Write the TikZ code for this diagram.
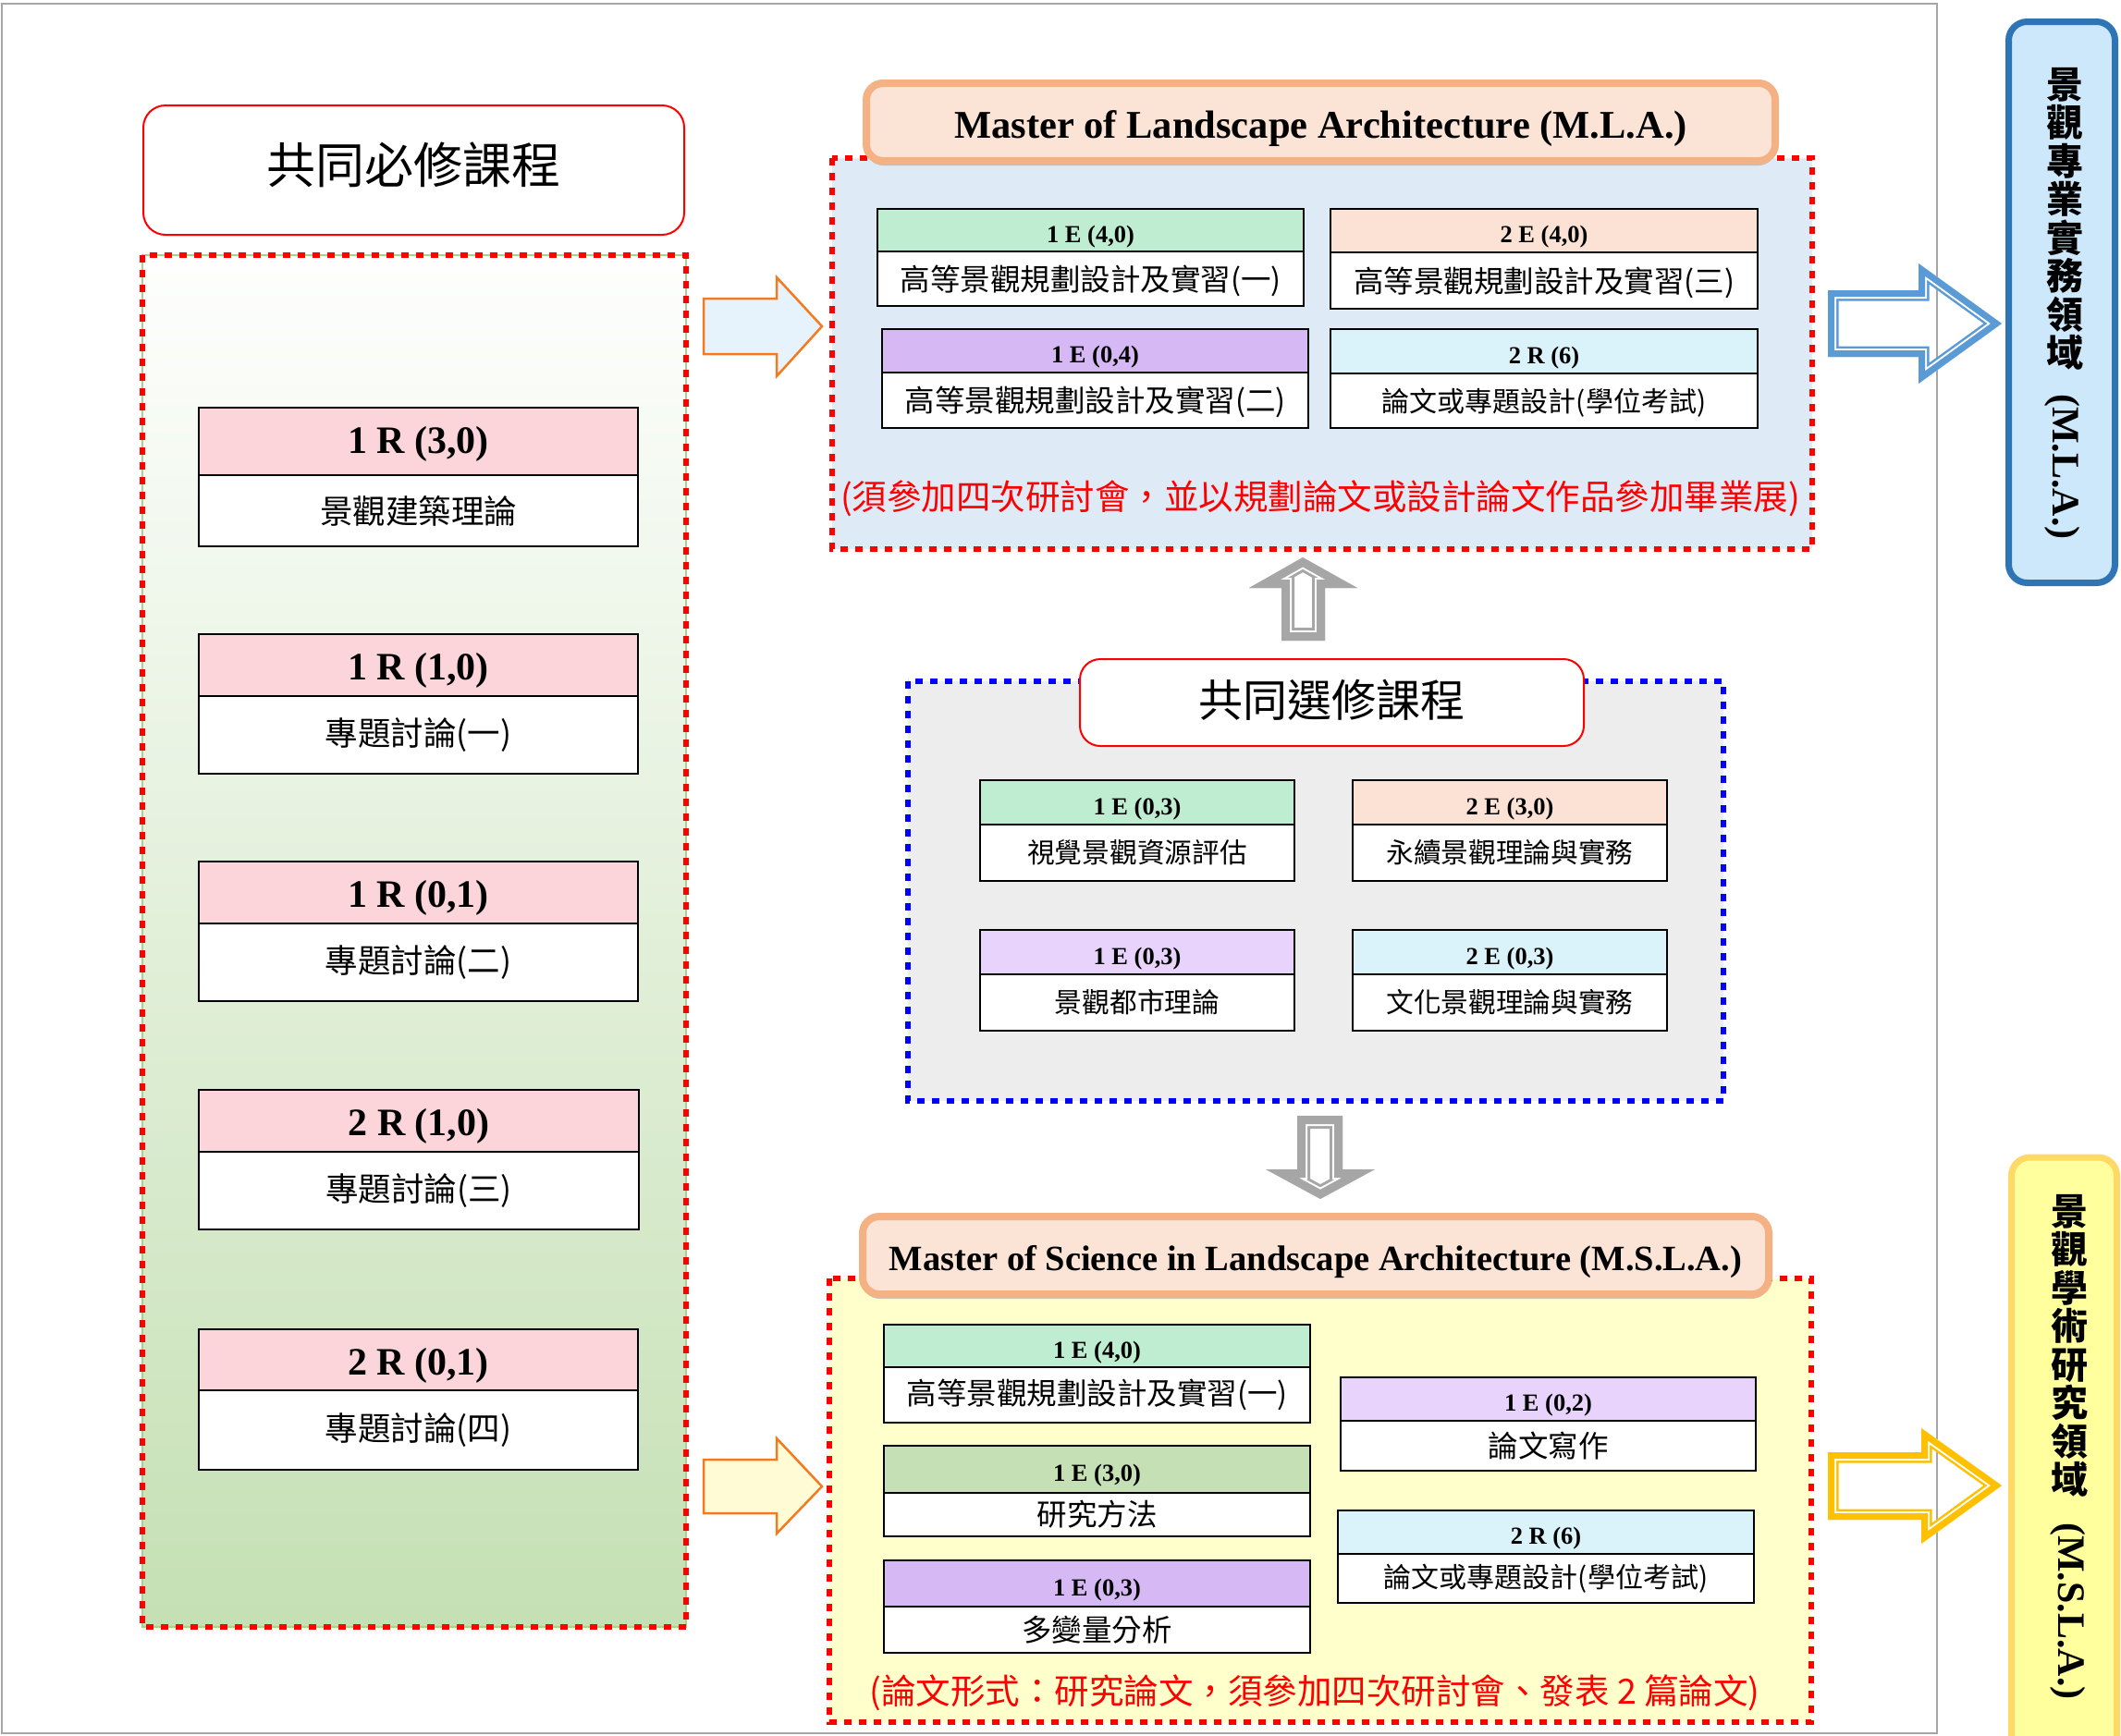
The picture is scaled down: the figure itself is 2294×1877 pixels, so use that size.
\documentclass[tikz,border=0pt]{standalone}
\usepackage{fontspec}
\usepackage{graphicx}
\setmainfont{Liberation Serif}
\newfontfamily\cjk{Noto Sans CJK TC}
\usetikzlibrary{shadows}
\definecolor{pinkH}{HTML}{FCD5DB}
\definecolor{greenH}{HTML}{BEEDD2}
\definecolor{peachH}{HTML}{FBE2D5}
\definecolor{purpleH}{HTML}{D5B8F4}
\definecolor{cyanH}{HTML}{DAF2FA}
\definecolor{lavH}{HTML}{E8D3FC}
\definecolor{oliveH}{HTML}{C5E0B4}
\definecolor{mlaFill}{HTML}{DEEAF6}
\definecolor{elFill}{HTML}{EDEDED}
\definecolor{mslaFill}{HTML}{FFFFCC}
\definecolor{titleLine}{HTML}{F4B183}
\definecolor{titleFill}{HTML}{FBE3D6}
\definecolor{frameGray}{HTML}{A6A6A6}
\definecolor{arrOrange}{HTML}{F57A1F}
\definecolor{arrBlueFill}{HTML}{E6F2FC}
\definecolor{arrYelFill}{HTML}{FFFBD5}
\definecolor{blueArr}{HTML}{5B9BD5}
\definecolor{yelArr}{HTML}{FFC000}
\definecolor{blueBoxLine}{HTML}{2E75B6}
\definecolor{blueBoxFill}{HTML}{CDE8FA}
\definecolor{yelBoxLine}{HTML}{FFD966}
\definecolor{yelBoxFill}{HTML}{FFFF9E}
\definecolor{panelGreenLine}{HTML}{A9D18E}
\newcommand\shiftv[2]{\raisebox{#1}[\height][\depth]{#2}}
\newcommand\hdrdrop{-7pt}
\newcommand\bdydrop{0pt}
\newcommand\course[9]{%
  \node[hdr, fill=#7, minimum width={#3-#2}, minimum height={#5-#4}] (#1h) at ({(#2+#3)/2},{(#4+#5)/2}) {\shiftv{\hdrdrop}{#8}};
  \node[bdy, minimum width={#3-#2}, minimum height={#6-#5}] (#1b) at ({(#2+#3)/2},{(#5+#6)/2}) {\shiftv{\bdydrop}{#9}};}
\newcommand\cmparrow[5]{%
  \begin{scope}
    \clip #1;
    \draw[#2, line width=#3, line join=miter] #1;
    \draw[white, line width=#4, line join=miter] #1;
    \draw[#2, line width=#5, line join=miter] #1;
  \end{scope}}
\begin{document}
\begin{tikzpicture}[x=1pt,y=-1pt,
  hbase/.style={rectangle, draw=black, line width=2pt, inner sep=0pt},
  bbase/.style={rectangle, draw=black, line width=2pt, fill=white, inner sep=0pt},
  hdr/.style={hbase, font=\fontsize{26.5}{26.5}\selectfont\bfseries},
  bdy/.style={bbase, font=\fontsize{32.5}{32.5}\selectfont\cjk},
  reddots/.style={draw=red, line width=6pt, dash pattern=on 8pt off 8pt},
  bluedots/.style={draw=blue, line width=6pt, dash pattern=on 8pt off 8pt},
  headbox/.style={rectangle, draw=red, line width=2pt, fill=white, rounded corners=24pt, inner sep=0pt},
  titlebox/.style={rectangle, draw=titleLine, fill=titleFill, line width=8pt, rounded corners=18pt, inner sep=0pt,
     drop shadow={shadow xshift=0pt, shadow yshift=-5pt, fill=black!35, opacity=.6}},
  note/.style={text=red, font=\fontsize{37.5}{37.5}\selectfont\cjk, inner sep=0pt},
  orangearrow/.style={draw=arrOrange, line width=2.5pt, line join=miter},
  vbox/.style={rectangle, line width=7pt, rounded corners=20pt, inner sep=0pt},
  vtext/.style={align=center, inner sep=0pt, font=\fontsize{40}{41.5}\selectfont\cjk\bfseries},
  vabbr/.style={rotate=-90, inner sep=0pt, font=\fontsize{42}{42}\selectfont\bfseries}]
\fill[white] (0,0) rectangle (2294,1877);
\useasboundingbox (0,0) rectangle (2294,1877);
% outer frame
\draw[frameGray, line width=2pt] (1.5,4) rectangle (2095,1875);

% ===== left column =====
\node[headbox, minimum width=585, minimum height=140, font=\fontsize{53}{53}\selectfont\cjk] (reqHead) at (447.5,184) {\shiftv{6pt}{共同必修課程}};
\shade[top color=white!60!oliveH!5, bottom color=oliveH] (154,276) rectangle (742,1760);
\draw[panelGreenLine, line width=2pt] (154,276) rectangle (742,1760);
\draw[reddots] (154,276) rectangle (742,1760);
\begin{scope}[hdr/.style={hbase, font=\fontsize{42}{42}\selectfont\bfseries},
              bdy/.style={bbase, font=\fontsize{35.5}{35.5}\selectfont\cjk}]
\renewcommand\hdrdrop{-3pt}
\course{L1}{215}{690}{441}{514}{591}{pinkH}{1 R (3,0)}{景觀建築理論}
\renewcommand\hdrdrop{-6pt}
\course{L2}{215}{690}{686}{753}{837}{pinkH}{1 R (1,0)}{專題討論(一)}
\course{L3}{215}{690}{932}{999}{1083}{pinkH}{1 R (0,1)}{專題討論(二)}
\course{L4}{215}{691}{1179}{1246}{1330}{pinkH}{2 R (1,0)}{專題討論(三)}
\course{L5}{215}{690}{1438}{1504}{1590}{pinkH}{2 R (0,1)}{專題討論(四)}
\end{scope}

% ===== M.L.A. =====
\fill[mlaFill] (900,171) rectangle (1960,594);
\draw[reddots] (900,171) rectangle (1960,594);
\node[titlebox, minimum width=983, minimum height=84, font=\fontsize{42.5}{42.5}\selectfont\bfseries] (mlaTitle) at (1428.5,132) {\shiftv{-7pt}{Master of Landscape Architecture (M.L.A.)}};
\begin{scope}
\renewcommand\bdydrop{-2pt}
\course{A}{949}{1410}{226}{272}{331}{greenH}{1 E (4,0)}{高等景觀規劃設計及實習(一)}
\course{B}{1439}{1901}{226}{273}{334}{peachH}{2 E (4,0)}{高等景觀規劃設計及實習(三)}
\course{C}{954}{1415}{356}{403}{463}{purpleH}{1 E (0,4)}{高等景觀規劃設計及實習(二)}
\course{D}{1439}{1901}{356}{404}{463}{cyanH}{2 R (6)}{\fontsize{30}{30}\selectfont 論文或專題設計(學位考試)}
\end{scope}
\node[note] (mlaNote) at (1428,539) {(須參加四次研討會，並以規劃論文或設計論文作品參加畢業展)};

% ===== electives =====
\fill[elFill] (982,737) rectangle (1864,1191);
\draw[bluedots] (982,737) rectangle (1864,1191);
\node[headbox, rounded corners=22pt, minimum width=545, minimum height=94, font=\fontsize{48}{48}\selectfont\cjk] (elHead) at (1440.5,760) {\shiftv{3pt}{共同選修課程}};
\begin{scope}[bdy/.style={bbase, font=\fontsize{29.7}{29.7}\selectfont\cjk}]
\course{E1}{1060}{1400}{844}{892}{953}{greenH}{1 E (0,3)}{視覺景觀資源評估}
\course{E2}{1463}{1803}{844}{892}{953}{peachH}{2 E (3,0)}{永續景觀理論與實務}
\course{E3}{1060}{1400}{1006}{1054}{1115}{lavH}{1 E (0,3)}{景觀都市理論}
\course{E4}{1463}{1803}{1006}{1054}{1115}{cyanH}{2 E (0,3)}{文化景觀理論與實務}
\end{scope}

% ===== M.S.L.A. =====
\fill[mslaFill] (897,1383) rectangle (1959,1863);
\draw[reddots] (897,1383) rectangle (1959,1863);
\node[titlebox, minimum width=980, minimum height=84, font=\fontsize{38.5}{38.5}\selectfont\bfseries] (mslaTitle) at (1423,1358) {\shiftv{-7pt}{Master of Science in Landscape Architecture (M.S.L.A.)}};
\course{M1}{956}{1417}{1433}{1479}{1539}{greenH}{1 E (4,0)}{高等景觀規劃設計及實習(一)}
\course{M2}{956}{1417}{1564}{1615}{1662}{oliveH}{1 E (3,0)}{研究方法}
\course{M3}{956}{1417}{1688}{1738}{1788}{purpleH}{1 E (0,3)}{多變量分析}
\course{M4}{1450}{1899}{1490}{1537}{1591}{lavH}{1 E (0,2)}{論文寫作}
\course{M5}{1447}{1897}{1634}{1681}{1734}{cyanH}{2 R (6)}{\fontsize{30}{30}\selectfont 論文或專題設計(學位考試)}
\node[note] (mslaNote) at (1422,1831) {(論文形式：研究論文，須參加四次研討會、發表 2 篇論文)};

% ===== right boxes =====
\node[vbox, draw=blueBoxLine, fill=blueBoxFill, minimum width=115, minimum height=607,
      drop shadow={shadow xshift=2pt, shadow yshift=-3pt, fill=black!40, opacity=.5}] (mlaField) at (2230,327) {};
\node[vtext] (mlaFieldText) at (2233,237) {景\\觀\\專\\業\\實\\務\\領\\域};
\node[vabbr] (mlaFieldAbbr) at (2231,505) {(M.L.A.)};
\node[vbox, draw=yelBoxLine, fill=yelBoxFill, minimum width=114, minimum height=648] (mslaField) at (2232.5,1576) {};
\node[vtext] (mslaFieldText) at (2238,1456) {景\\觀\\學\\術\\研\\究\\領\\域};
\node[vabbr] (mslaFieldAbbr) at (2237,1743) {(M.S.L.A.)};

% ===== arrows =====
\filldraw[orangearrow, fill=arrBlueFill] (761,323) -- (840,323) -- (840,300) -- (889,353) -- (840,407) -- (840,383) -- (761,383) -- cycle;
\filldraw[orangearrow, fill=arrYelFill] (761,1579) -- (840,1579) -- (840,1556) -- (889,1608) -- (840,1659) -- (840,1637) -- (761,1637) -- cycle;
\cmparrow{(1977,314) -- (2075,314) -- (2075,285) -- (2165,350) -- (2075,415) -- (2075,386) -- (1977,386) -- cycle}{blueArr}{23pt}{18pt}{14pt}
\cmparrow{(1977,1571) -- (2078,1571) -- (2078,1545) -- (2165,1607) -- (2078,1670) -- (2078,1644) -- (1977,1644) -- cycle}{yelArr}{23pt}{18pt}{14pt}
\cmparrow{(1409,603) -- (1468,636) -- (1433,636) -- (1433,693) -- (1386,693) -- (1386,636) -- (1351,636) -- cycle}{frameGray}{28pt}{22pt}{18pt}
\cmparrow{(1403,1207) -- (1452,1207) -- (1452,1265) -- (1487,1265) -- (1428,1297) -- (1369,1265) -- (1403,1265) -- cycle}{frameGray}{28pt}{22pt}{18pt}
\end{tikzpicture}
\end{document}
